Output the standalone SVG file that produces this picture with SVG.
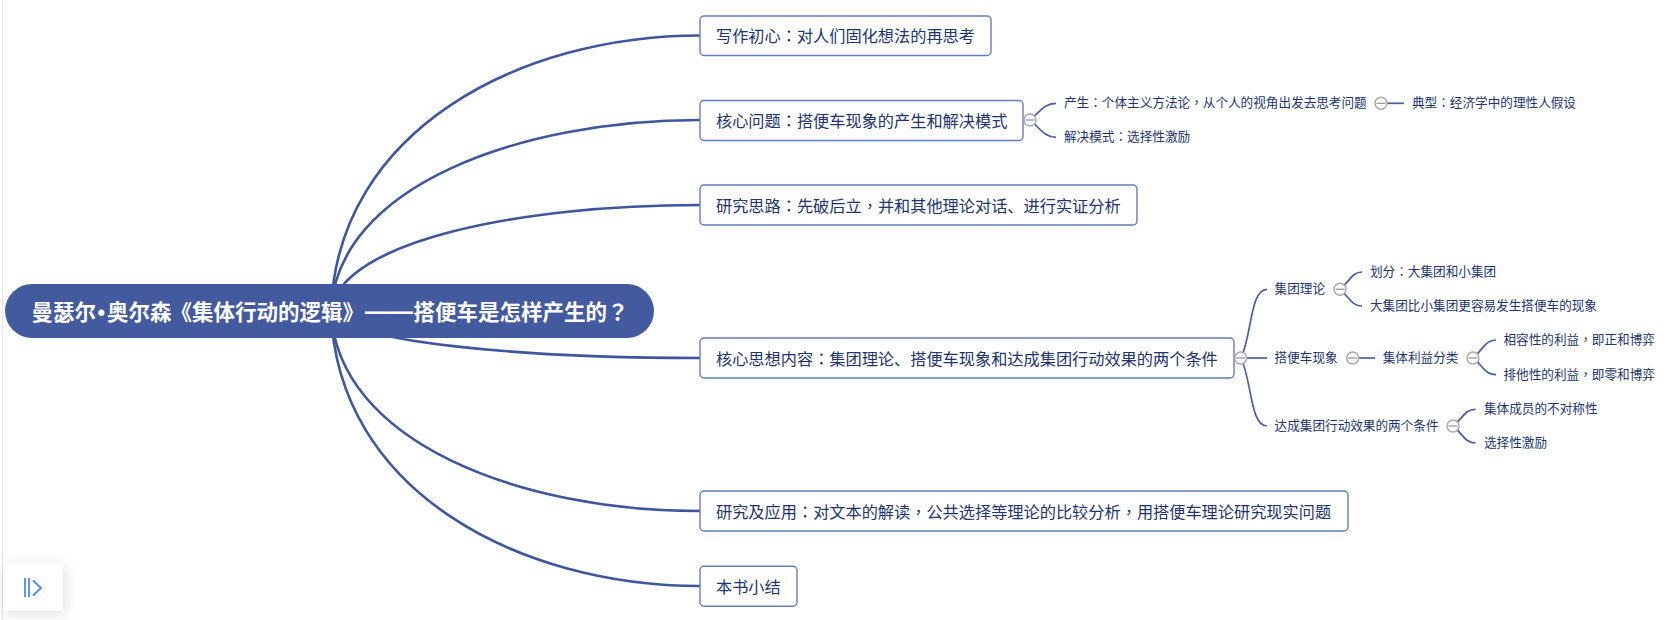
<svg xmlns="http://www.w3.org/2000/svg" width="1669" height="620" viewBox="0 0 1669 620">
<style>
text{font-family:"Noto Sans CJK SC","Microsoft YaHei","Liberation Sans",sans-serif;fill:#22336e}
.box{fill:#fff;stroke:#667cba;stroke-width:1.4}
.t1{font-size:16.2px}
.t2{font-size:12.62px}
.root{fill:#445a9e}
.rt{font-size:21.5px;font-weight:700;fill:#fff}
.c1{fill:none;stroke:#3f569f;stroke-width:2.6}
.c2{fill:none;stroke:#4a5fa3;stroke-width:1.7}
.fold{fill:#fff;stroke:#a8a8a8;stroke-width:1.4}
.minus{stroke:#8f8f8f;stroke-width:1.2}
.p{font-family:"Noto Sans CJK TC",sans-serif}
.b{font-family:"Liberation Sans",sans-serif}
.d{font-size:24px}
</style>
<defs>
<g id="fold"><circle class="fold" r="6"/><line class="minus" x1="-4.5" x2="4.5"/></g>
<filter id="sh" x="-40%" y="-40%" width="180%" height="180%"><feDropShadow dx="2" dy="3" stdDeviation="7" flood-color="#000" flood-opacity=".13"/></filter>
</defs>
<rect width="1669" height="620" fill="#fff"/>
<line x1="2.5" y1="0" x2="2.5" y2="620" stroke="#e4e4e4"/>
<g id="connectors">
<path class="c1" d="M331 311C337 130 520 35.5 700 35.5"/>
<path class="c1" d="M331 311C337 186 520 120 700 120"/>
<path class="c1" d="M331 311C340 241 520 205 700 205"/>
<path class="c1" d="M331 311C345 342 520 358 700 358"/>
<path class="c1" d="M331 311C337 442 520 511 700 511"/>
<path class="c1" d="M331 311C337 492 520 586 700 586"/>
<path class="c2" d="M1030 120C1040 112 1044 103.3 1056 103.3"/>
<path class="c2" d="M1030 120C1040 128 1044 137.3 1056 137.3"/>
<path class="c2" d="M1381 103.3H1404"/>
<path class="c2" d="M1241 358C1252 335 1250 289.3 1267 289.3"/>
<path class="c2" d="M1241 358H1267"/>
<path class="c2" d="M1241 358C1252 381 1250 426 1267 426"/>
<path class="c2" d="M1340 289.3C1350 281 1352 272 1362 272"/>
<path class="c2" d="M1340 289.3C1350 298 1352 306 1362 306"/>
<path class="c2" d="M1352.6 358H1375"/>
<path class="c2" d="M1473 358C1483 350 1485 340 1496 340"/>
<path class="c2" d="M1473 358C1483 366 1485 374.7 1496 374.7"/>
<path class="c2" d="M1453 426C1463 418 1465 409.3 1475.6 409.3"/>
<path class="c2" d="M1453 426C1463 434 1465 443 1475.6 443"/>
</g>
<g id="root"><rect class="root" x="5" y="284" width="649" height="54" rx="27"/><text class="rt" x="31.5" y="320">曼瑟尔<tspan class="b" x="97.5">•</tspan><tspan x="107">奥尔森</tspan><tspan x="170.5">《集体行动的逻辑》</tspan><tspan class="b d" x="365" y="319">——</tspan><tspan x="413.5" y="320">搭便车是怎样产生的</tspan><tspan class="p">？</tspan></text></g>
<g id="n1"><rect class="box" x="700" y="16" width="291" height="39.5" rx="4"/><text class="t1" x="716" y="41.8">写作初心<tspan class="p">：</tspan>对人们固化想法的再思考</text></g>
<g id="n2"><rect class="box" x="700" y="100.5" width="323" height="40" rx="4"/><text class="t1" x="716" y="126.6">核心问题<tspan class="p">：</tspan>搭便车现象的产生和解决模式</text><use href="#fold" x="1030" y="120"/></g>
<g id="n2a"><text class="t2" x="1064" y="107.3">产生<tspan class="p">：</tspan>个体主义方法论<tspan class="p">，</tspan>从个人的视角出发去思考问题</text><use href="#fold" x="1381" y="103.3"/></g>
<g id="n2a1"><text class="t2" x="1412" y="107.3">典型<tspan class="p">：</tspan>经济学中的理性人假设</text></g>
<g id="n2b"><text class="t2" x="1064" y="141.3">解决模式<tspan class="p">：</tspan>选择性激励</text></g>
<g id="n3"><rect class="box" x="700" y="185" width="437" height="40" rx="4"/><text class="t1" x="716" y="211.5">研究思路<tspan class="p">：</tspan>先破后立<tspan class="p">，</tspan>并和其他理论对话、进行实证分析</text></g>
<g id="n4"><rect class="box" x="700" y="338" width="534" height="40" rx="4"/><text class="t1" x="716" y="364.5">核心思想内容<tspan class="p">：</tspan>集团理论、搭便车现象和达成集团行动效果的两个条件</text><use href="#fold" x="1240.7" y="358"/></g>
<g id="n4a"><text class="t2" x="1274.6" y="293.3">集团理论</text><use href="#fold" x="1340" y="289.3"/></g>
<g id="n4a1"><text class="t2" x="1370" y="276">划分<tspan class="p">：</tspan>大集团和小集团</text></g>
<g id="n4a2"><text class="t2" x="1370" y="310">大集团比小集团更容易发生搭便车的现象</text></g>
<g id="n4b"><text class="t2" x="1274.6" y="362">搭便车现象</text><use href="#fold" x="1352.6" y="358"/></g>
<g id="n4b1"><text class="t2" x="1382.7" y="362">集体利益分类</text><use href="#fold" x="1473" y="358"/></g>
<g id="n4b1a"><text class="t2" x="1503.5" y="344">相容性的利益<tspan class="p">，</tspan>即正和博弈</text></g>
<g id="n4b1b"><text class="t2" x="1503.5" y="378.7">排他性的利益<tspan class="p">，</tspan>即零和博弈</text></g>
<g id="n4c"><text class="t2" x="1274.6" y="430">达成集团行动效果的两个条件</text><use href="#fold" x="1453" y="426"/></g>
<g id="n4c1"><text class="t2" x="1484" y="413.3">集体成员的不对称性</text></g>
<g id="n4c2"><text class="t2" x="1484" y="447">选择性激励</text></g>
<g id="n5"><rect class="box" x="700" y="491" width="648" height="40" rx="4"/><text class="t1" x="716" y="517.5">研究及应用<tspan class="p">：</tspan>对文本的解读<tspan class="p">，</tspan>公共选择等理论的比较分析<tspan class="p">，</tspan>用搭便车理论研究现实问题</text></g>
<g id="n6"><rect class="box" x="700" y="566.3" width="97" height="40" rx="4"/><text class="t1" x="716" y="592.5">本书小结</text></g>
<g id="toggle"><rect x="3" y="563" width="60" height="48" fill="#fff" filter="url(#sh)"/>
<path d="M25 578V597M29 578V597" stroke="#4a8cff" stroke-width="1.8" fill="none"/><path d="M33 580.5L41 588L33 595.5" stroke="#4a8cff" stroke-width="1.8" fill="none"/></g>
</svg>
